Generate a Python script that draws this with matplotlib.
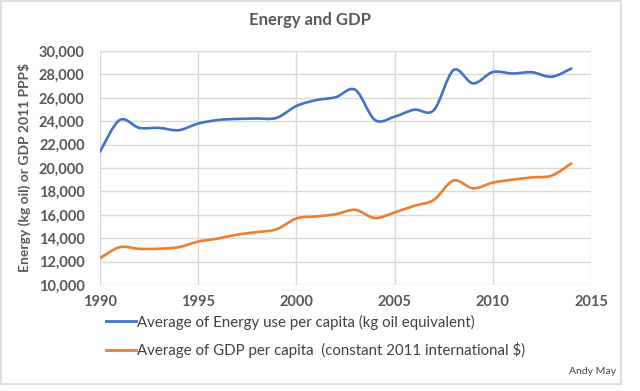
import matplotlib
matplotlib.use("Agg")
import matplotlib.pyplot as plt
import numpy as np
from matplotlib.path import Path
from matplotlib.patches import PathPatch, Rectangle
from matplotlib.lines import Line2D
from matplotlib.ticker import FuncFormatter

years = list(range(1990, 2015))
energy = [21400, 24100, 23430, 23430, 23230, 23800, 24100, 24200, 24230, 24290,
          25300, 25800, 26050, 26680, 24100, 24390, 24980, 24950, 28370, 27230,
          28200, 28080, 28180, 27800, 28500]
gdp = [12290, 13230, 13090, 13100, 13230, 13710, 13970, 14310, 14520, 14770,
       15690, 15860, 16050, 16420, 15720, 16200, 16770, 17280, 18930, 18260,
       18750, 19000, 19200, 19350, 20400]
labels = ["Average of Energy use per capita (kg oil equivalent)",
          "Average of GDP per capita  (constant 2011 international $)"]
colors = ["#4472C4", "#ED7D31"]

plt.rcParams["font.family"] = ["Lato", "DejaVu Sans"]
TXT = "#595959"
GRID = "#d9d9d9"


def smooth_path(x, y):
    # Excel-style smoothed line: cubic Bezier segments through every point
    p = np.column_stack([x, y]).astype(float)
    n = len(p)
    verts = [p[0]]
    codes = [Path.MOVETO]
    for i in range(n - 1):
        p0 = p[i - 1] if i > 0 else p[i]
        p3 = p[i + 2] if i + 2 < n else p[i + 1]
        c1 = p[i] + (p[i + 1] - p0) / 6.0
        c2 = p[i + 1] - (p3 - p[i]) / 6.0
        verts += [c1, c2, p[i + 1]]
        codes += [Path.CURVE4] * 3
    return Path(verts, codes)


fig = plt.figure(figsize=(6.4, 3.91), dpi=100)
fig.patches.append(Rectangle((1 / 640, 1 - 384 / 391), 620 / 640, 383 / 391,
                             transform=fig.transFigure, fill=False,
                             edgecolor=GRID, linewidth=1.2))

ax = fig.add_axes([100 / 640, 1 - 285 / 391, 491 / 640, 234 / 391])
for series, c in zip([energy, gdp], colors):
    ax.add_patch(PathPatch(smooth_path(years, series), fill=False,
                           edgecolor=c, linewidth=1.9, capstyle="round"))

ax.set_xlim(1990, 2015)
ax.set_ylim(10000, 30000)
ax.set_xticks(range(1990, 2016, 5))
ax.set_yticks(range(10000, 30001, 2000))
ax.yaxis.set_major_formatter(FuncFormatter(lambda v, _: f"{int(v):,}"))
ax.grid(True, color=GRID, linewidth=1)
ax.set_axisbelow(True)
for s in ax.spines.values():
    s.set_visible(False)
ax.tick_params(length=0, labelsize=10.5, labelcolor=TXT)
ax.tick_params(axis="y", pad=11)
ax.tick_params(axis="x", pad=7)
for t in ax.get_xticklabels() + ax.get_yticklabels():
    t.set_fontweight("bold")
ax.set_ylabel("Energy (kg oil) or GDP 2011 PPP$", fontsize=10,
              fontweight="bold", color=TXT, labelpad=6)

fig.text(310 / 640, 1 - 20 / 391, "Energy and GDP", ha="center", va="center",
         fontsize=12, fontweight="bold", color=TXT)

handles = [Line2D([], [], color=c, linewidth=2) for c in colors]
fig.legend(handles, labels, loc="upper left",
           bbox_to_anchor=(98 / 640, 1 - 307 / 391), frameon=False,
           fontsize=10.8, labelcolor="#404040", handlelength=2.0,
           handletextpad=0.1, labelspacing=0.85, borderpad=0)

fig.text(616 / 640, 1 - 371 / 391, "Andy May", ha="right", va="center",
         fontsize=7.5, color="#404040")

fig.savefig("out.png", dpi=100)
